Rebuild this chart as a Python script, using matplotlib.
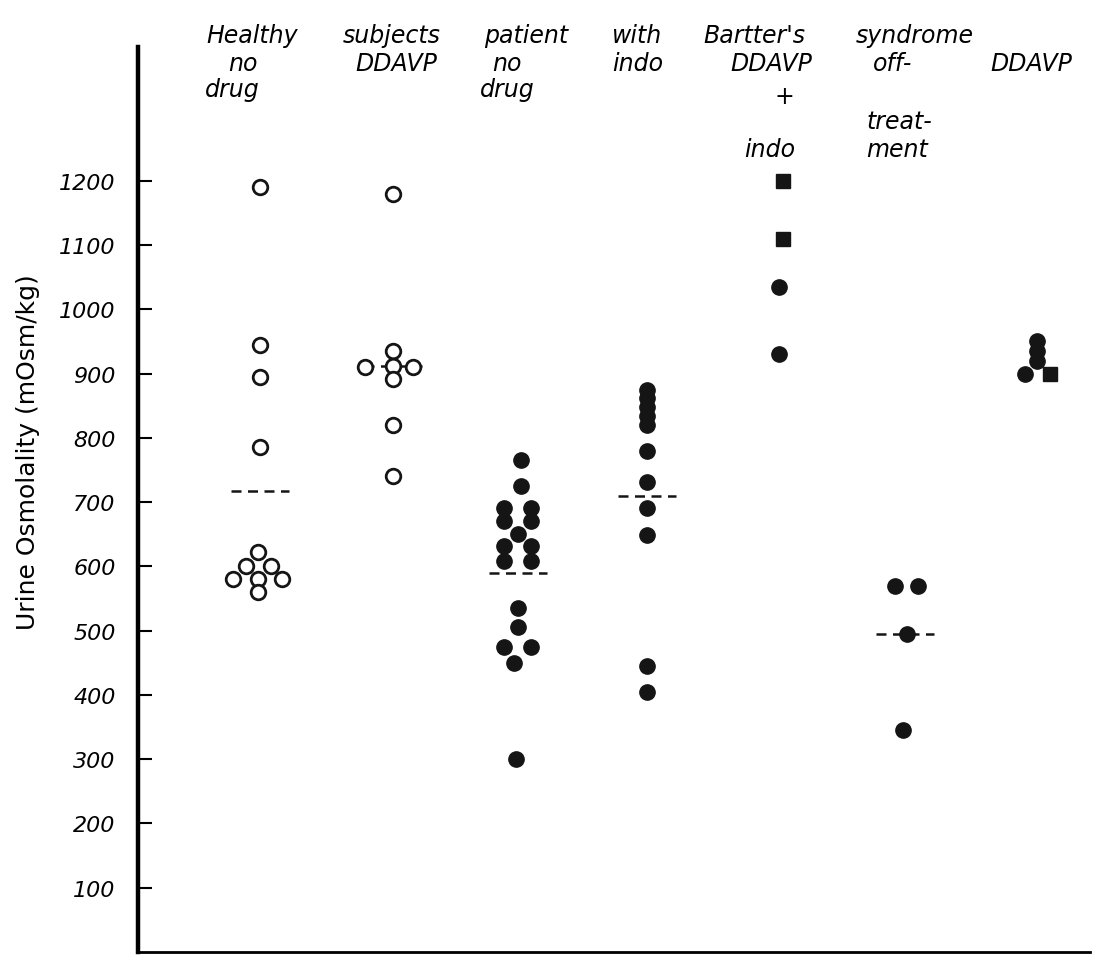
import matplotlib
matplotlib.use("Agg")
import matplotlib.pyplot as plt

# Data (urine osmolality, mOsm/kg)
yticks = [100, 200, 300, 400, 500, 600, 700, 800, 900, 1000, 1100, 1200]

healthy_nodrug = [1190, 945, 895, 785, 622, 600, 600, 580, 580, 580, 560]
healthy_ddavp = [1180, 935, 912, 910, 910, 892, 820, 740]
bartter_nodrug = [765, 725, 691, 691, 671, 671, 651, 631, 631, 609, 609,
                  535, 505, 475, 475, 450, 300]
bartter_indo = [875, 862, 848, 834, 820, 780, 732, 690, 648, 445, 405]
bartter_ddavp_indo_sq = [1200, 1110]
bartter_ddavp_indo = [1035, 930]
bartter_off = [570, 570, 495, 345]
bartter_ddavp = [950, 935, 920, 900]
bartter_ddavp_sq = [900]

# dashed group lines (mean), None where not drawn
group_means = [717, 912, 590, 710, None, 495, None]

# layout: column centres (axis units) and point offsets (pixels)
col_x = [0.95, 1.98, 2.95, 3.96, 5.0, 5.96, 6.99]
PX = 128.65
dx_h_nodrug = [0, 0, 0, 0, -2, -14, 11, -27, -2, 22, -2]
dx_h_ddavp = [0, 0, 0, -28, 20, 0, 0, 0]
dx_b_nodrug = [3, 3, -14, 13, -14, 13, 0, -14, 13, -14, 13, 0, 0, -14, 13, -4, -2]

fig = plt.figure(figsize=(11.08, 9.62), dpi=100)
ax = fig.add_axes([138 / 1108, 9 / 962, 952 / 1108, 905 / 962])
ax.set_xlim(0, 7.4)
ax.set_ylim(0, 1408)

ink = "#151515"
msz = 11
open_kw = dict(marker="o", ms=msz - 0.5, mfc="white", mec=ink, mew=2.0, ls="none")
fill_kw = dict(marker="o", ms=msz, mfc=ink, mec=ink, ls="none")
sq_kw = dict(marker="s", ms=msz - 1.5, mfc=ink, mec=ink, ls="none")


def xs(i, vals, dx=None):
    if dx is None:
        dx = [0] * len(vals)
    return [col_x[i] + d / PX for d in dx]


# mean lines first so the markers sit on top
for i, m in enumerate(group_means):
    if m is None:
        continue
    ax.plot([col_x[i] - 29 / PX, col_x[i] + 29 / PX], [m, m], color=ink,
            lw=1.8, ls=(0, (4, 2.6)), zorder=1)

ax.plot(xs(0, healthy_nodrug, dx_h_nodrug), healthy_nodrug, **open_kw)
ax.plot(xs(1, healthy_ddavp, dx_h_ddavp), healthy_ddavp, **open_kw)
ax.plot(xs(2, bartter_nodrug, dx_b_nodrug), bartter_nodrug, **fill_kw)
ax.plot(xs(3, bartter_indo), bartter_indo, **fill_kw)
ax.plot(xs(4, bartter_ddavp_indo_sq, [2, 2]), bartter_ddavp_indo_sq, **sq_kw)
ax.plot(xs(4, bartter_ddavp_indo, [-2, -2]), bartter_ddavp_indo, **fill_kw)
ax.plot(xs(5, bartter_off, [-10, 13, 2, -2]), bartter_off, **fill_kw)
ax.plot(xs(6, bartter_ddavp, [0, 0, 0, -12]), bartter_ddavp, **fill_kw)
ax.plot(xs(6, bartter_ddavp_sq, [13]), bartter_ddavp_sq, **sq_kw)

# axes styling
ax.spines["top"].set_visible(False)
ax.spines["right"].set_visible(False)
ax.spines["left"].set_linewidth(3.2)
ax.spines["bottom"].set_linewidth(2)
ax.set_xticks([])
ax.set_yticks(yticks)
ax.set_yticklabels([str(v) for v in yticks], fontsize=16, style="italic")
ax.tick_params(axis="y", direction="in", length=10, width=1.5, pad=16)

fig.text(28 / 1108, 1 - 452 / 962, "Urine Osmolality (mOsm/kg)", rotation=90,
         fontsize=18, ha="center", va="center")

# column headers
hdr = dict(fontsize=17, style="italic", va="center", ha="left")
words = ["Healthy", "subjects", "patient", "with", "Bartter's", "syndrome"]
word_x = [206, 343, 484, 612, 703, 856]
for w, x in zip(words, word_x):
    fig.text(x / 1108, 1 - 36 / 962, w, **hdr)

sub = [("no", 228, 64), ("drug", 205, 90), ("DDAVP", 355, 64),
       ("no", 492, 64), ("drug", 480, 90), ("indo", 612, 64),
       ("DDAVP", 730, 64), ("+", 775, 97), ("indo", 744, 150),
       ("off-", 873, 64), ("treat-", 866, 122), ("ment", 866, 150),
       ("DDAVP", 990, 64)]
for t, x, y in sub:
    fig.text(x / 1108, 1 - y / 962, t, **hdr)

fig.savefig("out.png", dpi=100, facecolor="white")
